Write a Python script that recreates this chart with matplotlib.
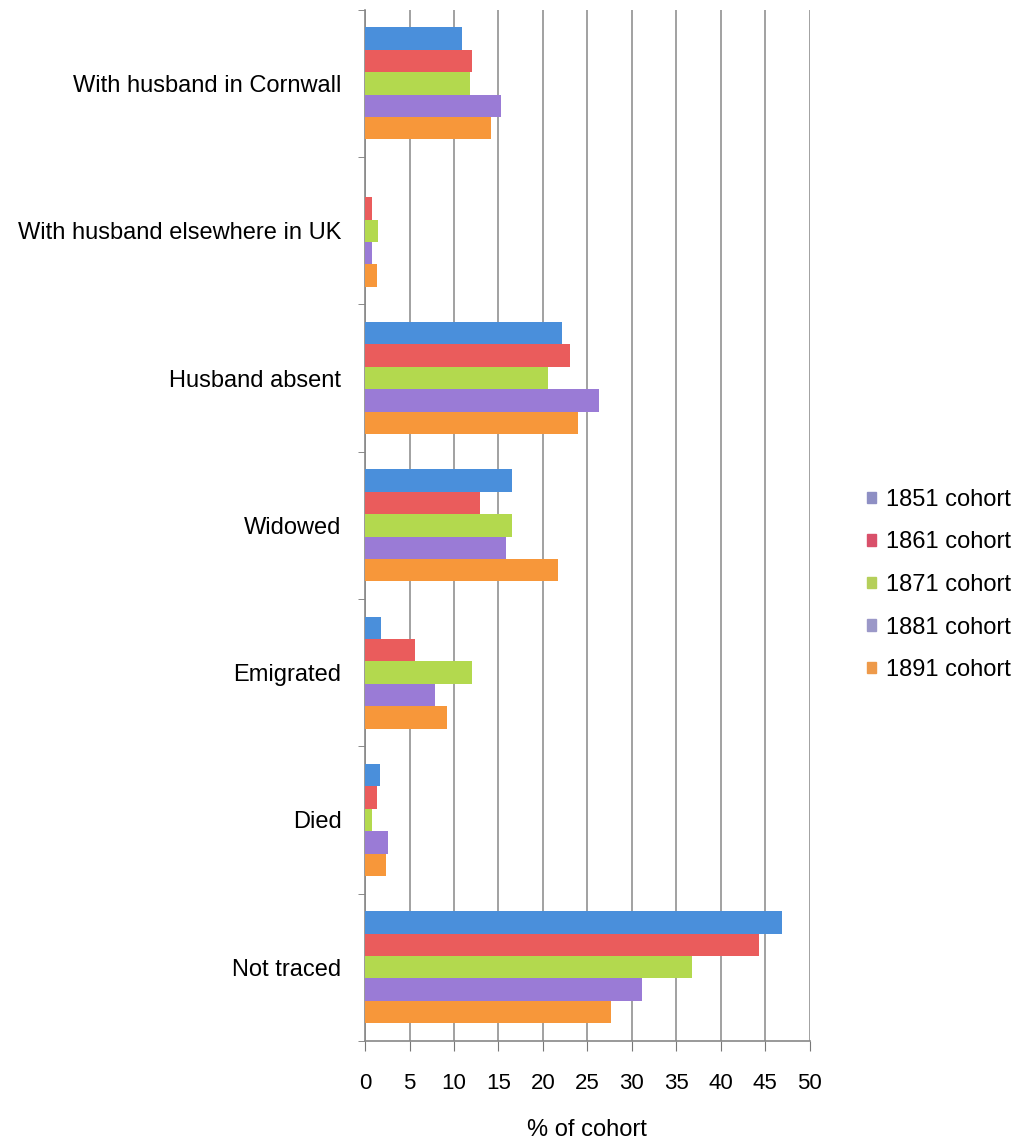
# coding: utf-8

"""
Cohort outcomes, horizontal grouped bars
"""

import matplotlib
matplotlib.use("Agg")
import matplotlib.pyplot as plt
import numpy as np

plt.rcParams['font.family'] = ['Liberation Sans', 'DejaVu Sans']

categories = ["With husband in Cornwall", "With husband elsewhere in UK",
              "Husband absent", "Widowed", "Emigrated", "Died", "Not traced"]
cohorts = ["1851 cohort", "1861 cohort", "1871 cohort", "1881 cohort", "1891 cohort"]

c1851 = [10.9, 0.0, 22.1, 16.5, 1.8, 1.7, 46.9]
c1861 = [12.0, 0.8, 23.1, 12.9, 5.6, 1.3, 44.3]
c1871 = [11.8, 1.4, 20.6, 16.5, 12.0, 0.8, 36.8]
c1881 = [15.3, 0.8, 26.3, 15.9, 7.9, 2.6, 31.2]
c1891 = [14.2, 1.3, 23.9, 21.7, 9.2, 2.3, 27.7]

series = [c1851, c1861, c1871, c1881, c1891]
colors = ["#4a8fdb", "#ea5c5c", "#b3d94e", "#9a7bd6", "#f7973a"]
legend_colors = ["#8e8fc4", "#d9506a", "#b5cf5a", "#9b98c8", "#ee9a4a"]


def main():
	fig = plt.figure(figsize=(10.17, 11.47), dpi=100)
	ax = fig.add_axes([0.359, 0.0925, 0.437, 0.899])

	ypos = np.arange(len(categories))
	h = 0.152
	for i, vals in enumerate(series):
		off = (i - 2) * h
		ax.barh(ypos + off, vals, height=h, color=colors[i], edgecolor="none",
		        zorder=3, label=cohorts[i])

	ax.set_xlim(0, 50)
	ax.set_ylim(len(categories) - 0.5, -0.5)
	ax.set_xticks(np.arange(0, 51, 5))
	ax.tick_params(axis="x", labelsize=16, length=7, color="#777777", pad=16)
	ax.set_yticks(ypos)
	ax.set_yticklabels(categories, fontsize=17)
	ax.tick_params(axis="y", length=0, pad=17)
	# boundary ticks on the category axis
	ax.set_yticks(np.arange(len(categories) + 1) - 0.5, minor=True)
	ax.tick_params(axis="y", which="minor", length=5, color="#777777")

	ax.grid(axis="x", color="#888888", linewidth=1.1, zorder=0)
	for s in ["top", "right"]:
		ax.spines[s].set_visible(False)
	ax.spines["left"].set_color("#888888")
	ax.spines["bottom"].set_color("#888888")
	ax.spines["left"].set_linewidth(1.2)
	ax.spines["bottom"].set_linewidth(1.2)

	ax.set_xlabel("% of cohort", fontsize=17, labelpad=18)

	# Legend
	handles = [plt.Rectangle((0, 0), 1, 1, color=c) for c in legend_colors]
	fig.legend(handles, cohorts, loc="center left", bbox_to_anchor=(0.832, 0.49),
	           frameon=False, fontsize=17, handlelength=0.35, handleheight=0.35,
	           handletextpad=0.45, labelspacing=0.87)

	fig.savefig("out.png", dpi=100, facecolor="white")


if __name__ == "__main__":
	main()
